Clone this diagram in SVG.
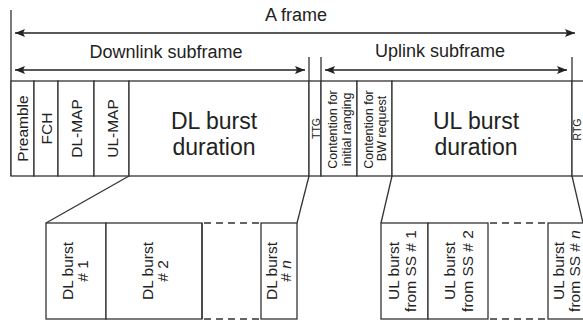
<svg xmlns="http://www.w3.org/2000/svg" width="583" height="325" viewBox="0 0 583 325">
<defs>
<marker id="ah" viewBox="0 0 10 8" refX="10" refY="4" markerWidth="10" markerHeight="8" markerUnits="userSpaceOnUse" orient="auto-start-reverse">
<path d="M0,0 L10,4 L0,8 L2,4 z" fill="#222"/>
</marker>
<style>
text{font-family:"Liberation Sans",Arial,sans-serif;fill:#222}
.ln{stroke:#333;stroke-width:1.3;fill:none}
.cell{stroke:#333;stroke-width:1.3;fill:#fff}
.dash{stroke:#333;stroke-width:1.3;fill:none;stroke-dasharray:7 5}
.arr{stroke:#222;stroke-width:1.3;fill:none;marker-start:url(#ah);marker-end:url(#ah)}
.big{font-size:18px}
.dur{font-size:23px}
.col{font-size:15.5px}
.sm{font-size:12.5px}
.tiny{font-size:10.5px}
</style>
</defs>
<rect width="583" height="325" fill="#fff"/>

<g id="labels">
<text class="big" x="296" y="21" text-anchor="middle">A frame</text>
<text class="big" x="166" y="58" text-anchor="middle">Downlink subframe</text>
<text class="big" x="440" y="57" text-anchor="middle">Uplink subframe</text>
</g>

<g id="connectors">
<line class="ln" x1="11" y1="10" x2="11" y2="176"/>
<line class="ln" x1="309" y1="57" x2="309" y2="176"/>
<line class="ln" x1="321" y1="57" x2="321" y2="176"/>
<line class="ln" x1="572" y1="57" x2="572" y2="176"/>
<line class="arr" x1="15" y1="33" x2="575" y2="33"/>
<line class="arr" x1="15" y1="70" x2="305" y2="70"/>
<line class="arr" x1="325" y1="70" x2="567" y2="70"/>
<line class="ln" x1="129" y1="176" x2="46" y2="223"/>
<line class="ln" x1="309" y1="176" x2="297" y2="223"/>
<line class="ln" x1="392" y1="176" x2="381" y2="223"/>
<line class="ln" x1="572" y1="176" x2="583" y2="223"/>
</g>

<g id="preamble"><rect class="cell" x="11" y="81" width="23" height="95"/>
<text class="col" transform="translate(28,128.5) rotate(-90)" text-anchor="middle">Preamble</text></g>
<g id="fch"><rect class="cell" x="34" y="81" width="24" height="95"/>
<text class="col" transform="translate(52,128.5) rotate(-90)" text-anchor="middle">FCH</text></g>
<g id="dlmap"><rect class="cell" x="58" y="81" width="36" height="95"/>
<text class="col" transform="translate(82,128.5) rotate(-90)" text-anchor="middle">DL-MAP</text></g>
<g id="ulmap"><rect class="cell" x="94" y="81" width="35" height="95"/>
<text class="col" transform="translate(117.5,128.5) rotate(-90)" text-anchor="middle">UL-MAP</text></g>
<g id="dlburst"><rect class="cell" x="129" y="81" width="180" height="95"/>
<text class="dur" x="214" y="129" text-anchor="middle">DL burst</text>
<text class="dur" x="214" y="155" text-anchor="middle">duration</text></g>
<g id="ttg"><rect class="cell" x="309" y="81" width="12" height="95"/>
<text class="tiny" transform="translate(319.5,128.5) rotate(-90)" text-anchor="middle">TTG</text></g>
<g id="ranging"><rect class="cell" x="321" y="81" width="36" height="95"/>
<text class="sm" transform="translate(337,129.5) rotate(-90)" text-anchor="middle">Contention for</text>
<text class="sm" transform="translate(350.5,129.5) rotate(-90)" text-anchor="middle">initial ranging</text></g>
<g id="bwreq"><rect class="cell" x="357" y="81" width="35" height="95"/>
<text class="sm" transform="translate(372.5,129.5) rotate(-90)" text-anchor="middle">Contention for</text>
<text class="sm" transform="translate(385.5,128.5) rotate(-90)" text-anchor="middle">BW request</text></g>
<g id="ulburst"><rect class="cell" x="392" y="81" width="180" height="95"/>
<text class="dur" x="476" y="129" text-anchor="middle">UL burst</text>
<text class="dur" x="476" y="155" text-anchor="middle">duration</text></g>
<g id="rtg"><rect class="cell" x="572" y="81" width="14" height="95"/>
<text class="tiny" transform="translate(580.5,129.5) rotate(-90)" text-anchor="middle">RTG</text></g>

<g id="dl1"><rect class="cell" x="46" y="223" width="60" height="96"/>
<text class="col" transform="translate(73,271) rotate(-90)" text-anchor="middle">DL burst</text>
<text class="col" transform="translate(88,271) rotate(-90)" text-anchor="middle"># 1</text></g>
<g id="dl2"><rect class="cell" x="106" y="223" width="96" height="96"/>
<text class="col" transform="translate(153,271) rotate(-90)" text-anchor="middle">DL burst</text>
<text class="col" transform="translate(168,271) rotate(-90)" text-anchor="middle"># 2</text></g>
<g id="dlgap">
<line class="ln" x1="202" y1="223" x2="202" y2="319"/>
<line class="dash" x1="204" y1="223" x2="261" y2="223"/>
<line class="dash" x1="204" y1="319" x2="261" y2="319"/></g>
<g id="dln"><rect class="cell" x="261" y="223" width="36" height="96"/>
<text class="col" transform="translate(277,271) rotate(-90)" text-anchor="middle">DL burst</text>
<text class="col" transform="translate(291,271) rotate(-90)" text-anchor="middle"># <tspan font-style="italic">n</tspan></text></g>

<g id="ul1"><rect class="cell" x="381" y="223" width="47" height="96"/>
<text class="col" transform="translate(398.5,271) rotate(-90)" text-anchor="middle">UL burst</text>
<text class="col" transform="translate(416,271) rotate(-90)" text-anchor="middle">from SS # 1</text></g>
<g id="ul2"><rect class="cell" x="428" y="223" width="60" height="96"/>
<text class="col" transform="translate(455,271) rotate(-90)" text-anchor="middle">UL burst</text>
<text class="col" transform="translate(472.5,271) rotate(-90)" text-anchor="middle">from SS # 2</text></g>
<g id="ulgap">
<line class="dash" x1="490" y1="223" x2="548" y2="223"/>
<line class="dash" x1="490" y1="319" x2="548" y2="319"/></g>
<g id="uln"><rect class="cell" x="548" y="223" width="40" height="96"/>
<text class="col" transform="translate(563.5,271) rotate(-90)" text-anchor="middle">UL burst</text>
<text class="col" transform="translate(579.5,271) rotate(-90)" text-anchor="middle">from SS # <tspan font-style="italic">n</tspan></text></g>
</svg>
